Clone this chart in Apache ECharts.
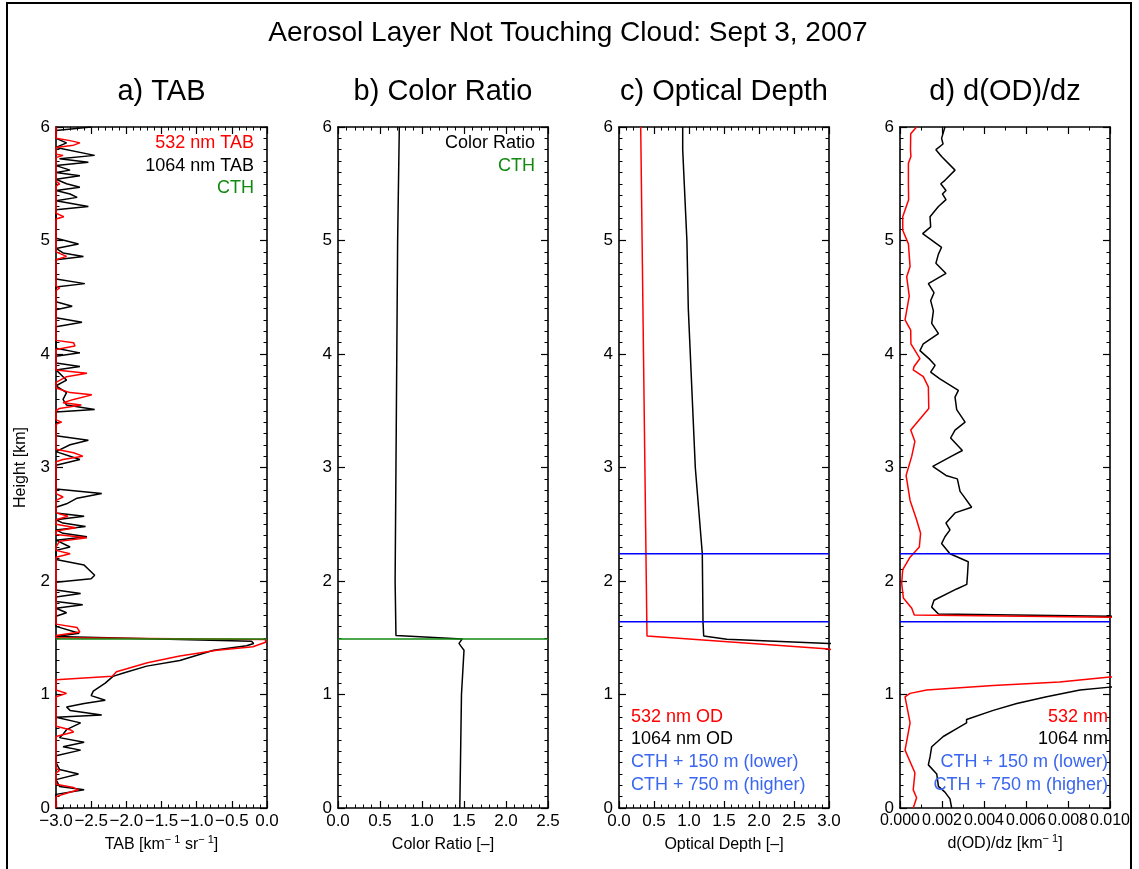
<!DOCTYPE html>
<html><head><meta charset="utf-8">
<script src="https://cdn.jsdelivr.net/npm/echarts@6/dist/echarts.min.js"></script>
<style>html,body{margin:0;padding:0;background:#fff}#c{width:1139px;height:869px}</style>
</head><body><div id="c"></div>
<script>
// ---------- DATA (pairs are [height km, value]) ----------
const heightTicks = [0, 6, 1];          // min, max, interval
const tabTicks = [-3, 0, 0.5];
const crTicks = [0, 2.5, 0.5];
const odTicks = [0, 3, 0.5];
const dodTicks = [0, 0.01, 0.002];

const cth = 1.49;
const cthLower = 1.64;   // CTH + 150 m
const cthHigher = 2.24;  // CTH + 750 m

const tab1064 = [[6.00,-2.50],[5.97,-3.0],[5.90,-3.0],[5.86,-2.85],[5.82,-3.0],[5.75,-2.45],[5.72,-2.95],[5.69,-2.54],[5.66,-3.0],[5.62,-2.8],[5.60,-3.0],[5.57,-2.66],[5.54,-3.0],[5.50,-2.85],[5.47,-2.66],[5.44,-3.0],[5.41,-2.8],[5.38,-2.70],[5.35,-3.0],[5.30,-2.54],[5.27,-3.0],[5.02,-3.0],[4.97,-2.68],[4.93,-3.0],[4.89,-2.9],[4.86,-2.61],[4.83,-3.0],[4.66,-3.0],[4.62,-2.59],[4.59,-3.0],[4.46,-3.0],[4.42,-2.77],[4.39,-3.0],[4.32,-3.0],[4.28,-2.63],[4.24,-3.0],[4.05,-3.0],[4.01,-2.66],[3.98,-3.0],[3.92,-3.0],[3.89,-2.66],[3.86,-3.0],[3.80,-2.9],[3.77,-2.85],[3.72,-3.0],[3.66,-2.85],[3.60,-2.9],[3.55,-2.85],[3.51,-2.45],[3.49,-3.0],[3.28,-3.0],[3.24,-2.54],[3.20,-2.8],[3.14,-3.0],[3.07,-2.66],[3.02,-3.0],[2.81,-3.0],[2.77,-2.35],[2.73,-2.7],[2.68,-2.85],[2.65,-3.0],[2.60,-3.0],[2.57,-2.6],[2.54,-3.0],[2.51,-2.9],[2.48,-2.58],[2.45,-3.0],[2.42,-2.9],[2.39,-2.56],[2.36,-3.0],[2.30,-2.8],[2.27,-3.0],[2.19,-3.0],[2.14,-2.6],[2.11,-2.55],[2.05,-2.45],[2.02,-2.5],[1.99,-3.0],[1.92,-3.0],[1.89,-2.65],[1.86,-3.0],[1.82,-3.0],[1.79,-2.62],[1.76,-3.0],[1.72,-2.85],[1.69,-3.0],[1.60,-3.0],[1.54,-2.67],[1.51,-3.0],[1.50,-3.0],[1.47,-0.22],[1.45,-0.19],[1.43,-0.29],[1.39,-0.76],[1.30,-1.24],[1.25,-1.71],[1.19,-2.04],[1.16,-2.19],[1.10,-2.30],[1.03,-2.47],[0.99,-2.50],[0.95,-2.30],[0.92,-2.6],[0.89,-2.85],[0.86,-2.8],[0.82,-2.35],[0.80,-3.0],[0.75,-2.65],[0.69,-2.85],[0.65,-2.9],[0.62,-2.95],[0.58,-2.6],[0.54,-2.9],[0.51,-2.65],[0.46,-3.0],[0.40,-3.0],[0.34,-2.95],[0.30,-2.68],[0.25,-3.0],[0.19,-2.95],[0.16,-2.6],[0.12,-3.0],[0.04,-3.0],[0.00,-3.0]];

const tab532 = [[6.00,-3.0],[5.90,-3.0],[5.88,-2.8],[5.86,-2.66],[5.84,-2.75],[5.82,-3.0],[5.76,-3.0],[5.75,-2.9],[5.73,-3.0],[5.52,-3.0],[5.50,-2.95],[5.48,-3.0],[5.24,-3.0],[5.21,-2.89],[5.19,-3.0],[4.90,-3.0],[4.86,-2.85],[4.83,-3.0],[4.60,-3.0],[4.58,-2.95],[4.56,-3.0],[4.12,-3.0],[4.10,-2.75],[4.07,-2.73],[4.04,-3.0],[3.86,-3.0],[3.83,-2.56],[3.80,-2.85],[3.75,-3.0],[3.70,-3.0],[3.66,-2.8],[3.64,-2.49],[3.60,-2.75],[3.57,-2.9],[3.55,-2.64],[3.52,-2.95],[3.50,-3.0],[3.42,-3.0],[3.40,-2.92],[3.38,-3.0],[3.16,-3.0],[3.13,-2.75],[3.10,-2.62],[3.07,-2.9],[3.05,-3.0],[2.77,-3.0],[2.74,-2.9],[2.71,-3.0],[2.60,-3.0],[2.57,-2.83],[2.54,-3.0],[2.50,-3.0],[2.47,-2.72],[2.44,-3.0],[2.41,-3.0],[2.38,-2.56],[2.35,-2.95],[2.30,-3.0],[2.27,-3.0],[2.24,-2.8],[2.21,-3.0],[1.62,-3.0],[1.59,-2.7],[1.55,-2.66],[1.52,-3.0],[1.50,-3.0],[1.485,-0.02],[1.46,-0.02],[1.42,-0.20],[1.39,-0.71],[1.34,-1.24],[1.28,-1.70],[1.20,-2.14],[1.16,-2.20],[1.13,-3.0],[1.04,-3.0],[1.01,-2.85],[0.98,-3.0],[0.72,-3.0],[0.69,-2.8],[0.67,-2.75],[0.63,-3.0],[0.35,-3.0],[0.33,-2.95],[0.31,-3.0],[0.21,-3.0],[0.18,-2.75],[0.16,-2.68],[0.13,-2.85],[0.10,-3.0],[0.00,-3.0]];

const colorRatio = [[6.0,0.73],[5.0,0.71],[4.0,0.70],[3.0,0.69],[2.0,0.68],[1.52,0.69],[1.49,1.48],[1.45,1.44],[1.42,1.47],[1.39,1.50],[1.0,1.47],[0.5,1.46],[0.0,1.45]];

const od532 = [[6.0,0.31],[5.0,0.33],[4.0,0.35],[3.0,0.37],[2.0,0.39],[1.515,0.40],[1.40,3.0],[1.35,3.5]];
const od1064 = [[6.0,0.91],[5.8,0.91],[5.0,0.97],[4.4,0.99],[3.0,1.09],[2.24,1.19],[1.64,1.20],[1.515,1.21],[1.486,1.54],[1.45,3.0],[1.42,3.5]];

const dod532 = [[6.00,0.00079],[5.94,0.00051],[5.80,0.00050],[5.74,0.00052],[5.68,0.00040],[5.50,0.00040],[5.36,0.00041],[5.21,0.00013],[5.09,0.00013],[4.97,0.00040],[4.77,0.00048],[4.68,0.00032],[4.51,0.00044],[4.30,0.00024],[4.21,0.00051],[4.09,0.00052],[3.96,0.00095],[3.89,0.00067],[3.86,0.00063],[3.80,0.00111],[3.71,0.00135],[3.52,0.00137],[3.45,0.00105],[3.33,0.00051],[3.23,0.00071],[3.10,0.00056],[2.93,0.00029],[2.71,0.00048],[2.54,0.00079],[2.42,0.00098],[2.30,0.00092],[2.21,0.00048],[2.10,0.00013],[1.98,0.00008],[1.85,0.00016],[1.76,0.00056],[1.70,0.00068],[1.68,0.0100],[1.67,0.02],[1.17,0.02],[1.155,0.0100],[1.11,0.0076],[1.08,0.00444],[1.04,0.00127],[1.01,0.00048],[0.98,0.00024],[0.75,0.00048],[0.51,0.00024],[0.31,0.00071],[0.16,0.00063],[0.09,0.00079],[0.00,0.00063]];

const dod1064 = [[6.00,0.00214],[5.90,0.00198],[5.85,0.00205],[5.80,0.00171],[5.74,0.00198],[5.62,0.00262],[5.53,0.00214],[5.50,0.00194],[5.44,0.00219],[5.41,0.00202],[5.36,0.00219],[5.30,0.00183],[5.21,0.00143],[5.12,0.00146],[5.06,0.00108],[4.94,0.00198],[4.88,0.00183],[4.80,0.00171],[4.71,0.00219],[4.62,0.00135],[4.54,0.00162],[4.47,0.00146],[4.38,0.00159],[4.27,0.00151],[4.18,0.00183],[4.09,0.00111],[4.03,0.00095],[3.95,0.00143],[3.90,0.00167],[3.84,0.00146],[3.78,0.00190],[3.68,0.00278],[3.62,0.00262],[3.51,0.00270],[3.40,0.00310],[3.33,0.00262],[3.26,0.00241],[3.15,0.00297],[3.10,0.00246],[3.01,0.00156],[2.93,0.00219],[2.90,0.00273],[2.79,0.00286],[2.75,0.00302],[2.65,0.00341],[2.60,0.00262],[2.51,0.00219],[2.45,0.00238],[2.39,0.00214],[2.33,0.00198],[2.24,0.00238],[2.17,0.00325],[2.07,0.00322],[1.97,0.00318],[1.93,0.00270],[1.83,0.00162],[1.77,0.00151],[1.71,0.00183],[1.69,0.0100],[1.68,0.02],[1.08,0.02],[1.065,0.0100],[1.04,0.00857],[0.98,0.00698],[0.92,0.00556],[0.86,0.00444],[0.78,0.00317],[0.75,0.00317],[0.70,0.00270],[0.63,0.00206],[0.54,0.00151],[0.45,0.00143],[0.38,0.00135],[0.30,0.00175],[0.19,0.00183],[0.14,0.00214],[0.08,0.00238],[0.00,0.00246]];

// ---------- STYLE / LAYOUT ----------
const FONT = '"Liberation Sans", Arial, Helvetica, sans-serif';
const RED = '#ff0000', BLACK = '#000000', GREEN = '#118a11', BLUE = '#0000ff', BLUE_TXT = '#3a66f0';
const gridsPos = [{left:56,width:211},{left:338,width:210},{left:619,width:210},{left:900,width:210}];
const TOP = 127, HEIGHT = 681;

const grids = gridsPos.map(g => ({left:g.left, width:g.width, top:TOP, height:HEIGHT, containLabel:false}));

const xSpecs = [
  {t:tabTicks, minor:5, size:17, fmt:v=>v.toFixed(1).replace('-', '\u2212'), name:'TAB [km{s|\u2212 1} sr{s|\u2212 1}]'},
  {t:crTicks, minor:5, size:17, fmt:v=>v.toFixed(1), name:'Color Ratio [\u2013]'},
  {t:odTicks, minor:5, size:17, fmt:v=>v.toFixed(1), name:'Optical Depth [\u2013]'},
  {t:dodTicks, minor:2, size:16, fmt:v=>v.toFixed(3), name:'d(OD)/dz [km{s|\u2212 1}]'}
];

function baseAxis(extra){
  return Object.assign({
    type:'value',
    axisLine:{show:true, onZero:false, lineStyle:{color:'#000', width:1.6}},
    axisTick:{show:true, inside:true, length:7, lineStyle:{color:'#000', width:1.2}},
    minorTick:{show:true, length:3.5, lineStyle:{color:'#000', width:1}},
    splitLine:{show:false},
    axisLabel:{fontFamily:FONT, fontSize:17, color:'#000', margin:5, showMinLabel:true, showMaxLabel:true, hideOverlap:false}
  }, extra);
}

const xAxes = [], yAxes = [];
xSpecs.forEach((s, i) => {
  const bottom = baseAxis({gridIndex:i, position:'bottom', min:s.t[0], max:s.t[1], interval:s.t[2],
    name:s.name, nameLocation:'middle', nameGap:25,
    nameTextStyle:{fontFamily:FONT, fontSize:16, color:'#000', lineHeight:20, verticalAlign:'top',
      rich:{s:{fontFamily:FONT, fontSize:11, color:'#000', lineHeight:10, verticalAlign:'top'}}}});
  bottom.minorTick.splitNumber = s.minor;
  bottom.axisLabel.formatter = s.fmt;
  bottom.axisLabel.fontSize = s.size;
  const top = baseAxis({gridIndex:i, position:'top', min:s.t[0], max:s.t[1], interval:s.t[2]});
  top.minorTick.splitNumber = s.minor;
  top.axisLabel = {show:false};
  xAxes.push(bottom, top);
  const left = baseAxis({gridIndex:i, position:'left', min:heightTicks[0], max:heightTicks[1], interval:heightTicks[2]});
  left.minorTick.splitNumber = 10;
  left.axisLabel.formatter = v => String(v);
  left.axisLabel.margin = 6;
  if (i === 0) {
    left.name = 'Height [km]'; left.nameLocation = 'middle'; left.nameGap = 27; left.nameRotate = 90;
    left.nameTextStyle = {fontFamily:FONT, fontSize:16, color:'#000'};
  }
  const right = baseAxis({gridIndex:i, position:'right', min:heightTicks[0], max:heightTicks[1], interval:heightTicks[2]});
  right.minorTick.splitNumber = 10;
  right.axisLabel = {show:false};
  yAxes.push(left, right);
});

function line(panel, pairs, color, z){
  return {type:'line', xAxisIndex:panel*2, yAxisIndex:panel*2, data:pairs.map(p => [p[1], p[0]]),
    showSymbol:false, symbol:'none', clip:true, z:z||2, animation:false,
    lineStyle:{color:color, width:1.5}};
}
function hline(panel, h, range, color){
  return line(panel, [[h, range[0]], [h, range[1]]], color, 3);
}

const series = [
  line(0, tab1064, BLACK), line(0, tab532, RED), hline(0, cth, tabTicks, GREEN),
  line(1, colorRatio, BLACK), hline(1, cth, crTicks, GREEN),
  line(2, od532, RED), line(2, od1064, BLACK), hline(2, cthLower, odTicks, BLUE), hline(2, cthHigher, odTicks, BLUE),
  line(3, dod1064, BLACK), line(3, dod532, RED), hline(3, cthLower, dodTicks, BLUE), hline(3, cthHigher, dodTicks, BLUE)
];

function txt(x, y, s, color, size, align){
  return {type:'text', x:x, y:y, z:10, style:{text:s, fill:color, font:size+'px '+FONT, textAlign:align||'left', textVerticalAlign:'middle'}};
}
const panelTitles = ['a) TAB', 'b) Color Ratio', 'c) Optical Depth', 'd) d(OD)/dz'];
const graphics = [
  {type:'rect', shape:{x:7, y:3, width:1124, height:890}, style:{fill:'none', stroke:'#000', lineWidth:2}, z:0},
  txt(568, 33, 'Aerosol Layer Not Touching Cloud: Sept 3, 2007', '#000', 28, 'center')
];
panelTitles.forEach((t, i) => graphics.push(txt(gridsPos[i].left + gridsPos[i].width/2, 92, t, '#000', 29, 'center')));
graphics.push(
  txt(254, 143, '532 nm TAB', RED, 18, 'right'),
  txt(254, 166, '1064 nm TAB', BLACK, 18, 'right'),
  txt(254, 188, 'CTH', GREEN, 18, 'right'),
  txt(535, 143, 'Color Ratio', BLACK, 18, 'right'),
  txt(535, 166, 'CTH', GREEN, 18, 'right'),
  txt(631, 717, '532 nm OD', RED, 18, 'left'),
  txt(631, 739, '1064 nm OD', BLACK, 18, 'left'),
  txt(631, 762, 'CTH + 150 m (lower)', BLUE_TXT, 18, 'left'),
  txt(631, 785, 'CTH + 750 m (higher)', BLUE_TXT, 18, 'left'),
  txt(1108, 717, '532 nm', RED, 18, 'right'),
  txt(1108, 739, '1064 nm', BLACK, 18, 'right'),
  txt(1108, 762, 'CTH + 150 m (lower)', BLUE_TXT, 18, 'right'),
  txt(1108, 785, 'CTH + 750 m (higher)', BLUE_TXT, 18, 'right')
);

const chart = echarts.init(document.getElementById('c'), null, {renderer:'canvas'});
chart.setOption({
  backgroundColor:'#fff', animation:false,
  grid:grids, xAxis:xAxes, yAxis:yAxes, series:series, graphic:graphics
});
</script></body></html>
